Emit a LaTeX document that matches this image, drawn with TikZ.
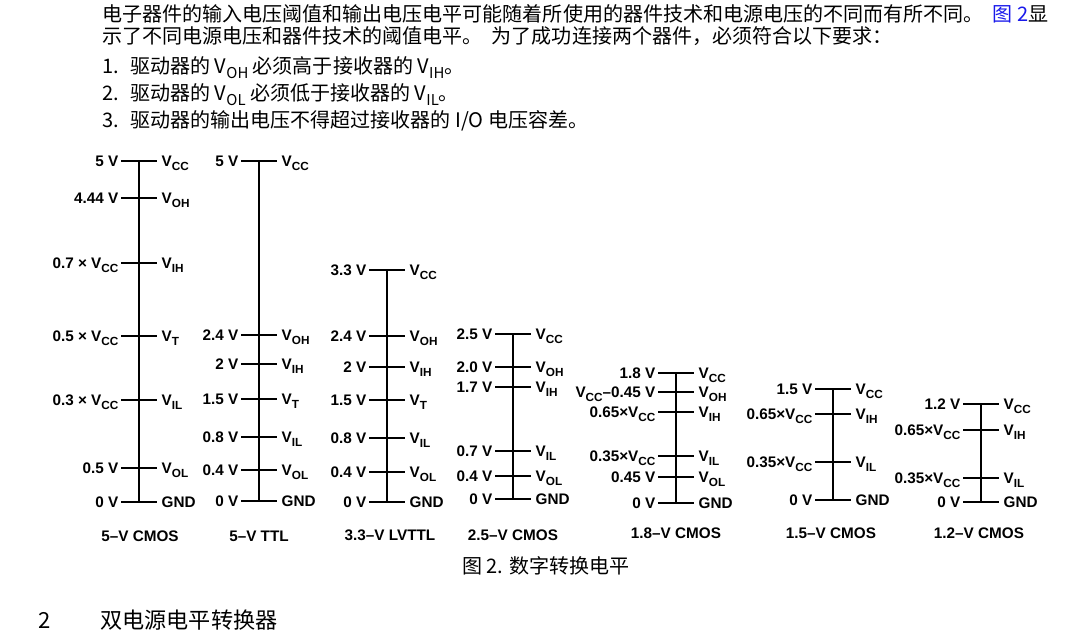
\documentclass[tikz,border=0pt]{standalone}
\usepackage{fontspec}
\setmainfont{Liberation Sans}
\newfontfamily\cjk{Noto Sans CJK SC}
\usepackage{tikz}
\definecolor{linkblue}{RGB}{25,25,235}
\newcommand\lo[1]{\raisebox{-0.45ex}{\fontsize{6.7}{7}\selectfont #1}}
\newcommand\tlo[1]{\raisebox{-0.4ex}{\fontsize{8.5}{9}\selectfont #1}}
\tikzset{
  rail/.style={line width=1.35pt},
  lbl/.style={font=\bfseries\fontsize{8.7}{10}\selectfont, text=black},
  lft/.style={lbl, anchor=base east, inner sep=0.8pt, yshift=-3.4pt},
  rgt/.style={lbl, anchor=base west, inner sep=2pt, yshift=-3.4pt},
  ttl/.style={lbl, anchor=center},
  body/.style={anchor=base west, inner sep=0pt, font=\cjk\fontsize{11.4}{13}\selectfont},
}

\begin{document}
\begin{tikzpicture}[x=0.02cm,y=-0.02cm]
\useasboundingbox (0,0) rectangle (1080,638);

% text above the figure
\node[body] (p1) at (102,22) {电子器件的输入电压阈值和输出电压电平可能随着所使用的器件技术和电源电压的不同而有所不同。\hspace{0.45em}{\color{linkblue}图 2}显};
\node[body] (p2) at (102,44) {示了不同电源电压和器件技术的阈值电平。\hspace{0.45em}为了成功连接两个器件，必须符合以下要求：};
\node[body] (n1) at (102,74) {1.};
\node[body] (t1) at (130,74) {驱动器的 V\tlo{OH} 必须高于接收器的 V\tlo{IH}。};
\node[body] (n2) at (102,101) {2.};
\node[body] (t2) at (130,101) {驱动器的 V\tlo{OL} 必须低于接收器的 V\tlo{IL}。};
\node[body] (n3) at (102,128) {3.};
\node[body] (t3) at (130,128) {驱动器的输出电压不得超过接收器的 I/O 电压容差。};

% 5-V CMOS
\draw[rail] (139,161) -- (139,502);
\draw[rail] (121,161) node[lft] (A1) {5 V} -- (157,161) node[rgt] (A1r) {V\lo{CC}};
\draw[rail] (121,198) node[lft] (A2) {4.44 V} -- (157,198) node[rgt] (A2r) {V\lo{OH}};
\draw[rail] (121,263) node[lft] (A3) {0.7 × V\lo{CC}} -- (157,263) node[rgt] (A3r) {V\lo{IH}};
\draw[rail] (121,336) node[lft] (A4) {0.5 × V\lo{CC}} -- (157,336) node[rgt] (A4r) {V\lo{T}};
\draw[rail] (121,400) node[lft] (A5) {0.3 × V\lo{CC}} -- (157,400) node[rgt] (A5r) {V\lo{IL}};
\draw[rail] (121,468) node[lft] (A6) {0.5 V} -- (157,468) node[rgt] (A6r) {V\lo{OL}};
\draw[rail] (121,502) node[lft] (A7) {0 V} -- (157,502) node[rgt] (A7r) {GND};
\node[ttl] (A) at (140,536) {5–V CMOS};

% 5-V TTL
\draw[rail] (259,161) -- (259,501);
\draw[rail] (241,161) node[lft] (B1) {5 V} -- (277,161) node[rgt] (B1r) {V\lo{CC}};
\draw[rail] (241,335) node[lft] (B2) {2.4 V} -- (277,335) node[rgt] (B2r) {V\lo{OH}};
\draw[rail] (241,364) node[lft] (B3) {2 V} -- (277,364) node[rgt] (B3r) {V\lo{IH}};
\draw[rail] (241,399) node[lft] (B4) {1.5 V} -- (277,399) node[rgt] (B4r) {V\lo{T}};
\draw[rail] (241,437) node[lft] (B5) {0.8 V} -- (277,437) node[rgt] (B5r) {V\lo{IL}};
\draw[rail] (241,470) node[lft] (B6) {0.4 V} -- (277,470) node[rgt] (B6r) {V\lo{OL}};
\draw[rail] (241,501) node[lft] (B7) {0 V} -- (277,501) node[rgt] (B7r) {GND};
\node[ttl] (B) at (259,536) {5–V TTL};

% 3.3-V LVTTL
\draw[rail] (387,270) -- (387,502);
\draw[rail] (369,270) node[lft] (C1) {3.3 V} -- (405,270) node[rgt] (C1r) {V\lo{CC}};
\draw[rail] (369,336) node[lft] (C2) {2.4 V} -- (405,336) node[rgt] (C2r) {V\lo{OH}};
\draw[rail] (369,367) node[lft] (C3) {2 V} -- (405,367) node[rgt] (C3r) {V\lo{IH}};
\draw[rail] (369,400) node[lft] (C4) {1.5 V} -- (405,400) node[rgt] (C4r) {V\lo{T}};
\draw[rail] (369,438) node[lft] (C5) {0.8 V} -- (405,438) node[rgt] (C5r) {V\lo{IL}};
\draw[rail] (369,472) node[lft] (C6) {0.4 V} -- (405,472) node[rgt] (C6r) {V\lo{OL}};
\draw[rail] (369,502) node[lft] (C7) {0 V} -- (405,502) node[rgt] (C7r) {GND};
\node[ttl] (C) at (390,535) {3.3–V LVTTL};

% 2.5-V CMOS
\draw[rail] (513,334) -- (513,499);
\draw[rail] (495,334) node[lft] (D1) {2.5 V} -- (531,334) node[rgt] (D1r) {V\lo{CC}};
\draw[rail] (495,367) node[lft] (D2) {2.0 V} -- (531,367) node[rgt] (D2r) {V\lo{OH}};
\draw[rail] (495,387) node[lft] (D3) {1.7 V} -- (531,387) node[rgt] (D3r) {V\lo{IH}};
\draw[rail] (495,451) node[lft] (D4) {0.7 V} -- (531,451) node[rgt] (D4r) {V\lo{IL}};
\draw[rail] (495,476) node[lft] (D5) {0.4 V} -- (531,476) node[rgt] (D5r) {V\lo{OL}};
\draw[rail] (495,499) node[lft] (D6) {0 V} -- (531,499) node[rgt] (D6r) {GND};
\node[ttl] (D) at (513,535) {2.5–V CMOS};

% 1.8-V CMOS
\draw[rail] (676,373) -- (676,503);
\draw[rail] (658,373) node[lft] (E1) {1.8 V} -- (694,373) node[rgt] (E1r) {V\lo{CC}};
\draw[rail] (658,392) node[lft] (E2) {V\lo{CC}–0.45 V} -- (694,392) node[rgt] (E2r) {V\lo{OH}};
\draw[rail] (658,412) node[lft] (E3) {0.65×V\lo{CC}} -- (694,412) node[rgt] (E3r) {V\lo{IH}};
\draw[rail] (658,456) node[lft] (E4) {0.35×V\lo{CC}} -- (694,456) node[rgt] (E4r) {V\lo{IL}};
\draw[rail] (658,477) node[lft] (E5) {0.45 V} -- (694,477) node[rgt] (E5r) {V\lo{OL}};
\draw[rail] (658,503) node[lft] (E6) {0 V} -- (694,503) node[rgt] (E6r) {GND};
\node[ttl] (E) at (676,533) {1.8–V CMOS};

% 1.5-V CMOS
\draw[rail] (833,389) -- (833,500);
\draw[rail] (815,389) node[lft] (F1) {1.5 V} -- (851,389) node[rgt] (F1r) {V\lo{CC}};
\draw[rail] (815,414) node[lft] (F2) {0.65×V\lo{CC}} -- (851,414) node[rgt] (F2r) {V\lo{IH}};
\draw[rail] (815,462) node[lft] (F3) {0.35×V\lo{CC}} -- (851,462) node[rgt] (F3r) {V\lo{IL}};
\draw[rail] (815,500) node[lft] (F4) {0 V} -- (851,500) node[rgt] (F4r) {GND};
\node[ttl] (F) at (831,533) {1.5–V CMOS};

% 1.2-V CMOS
\draw[rail] (981,404) -- (981,502);
\draw[rail] (963,404) node[lft] (G1) {1.2 V} -- (999,404) node[rgt] (G1r) {V\lo{CC}};
\draw[rail] (963,430) node[lft] (G2) {0.65×V\lo{CC}} -- (999,430) node[rgt] (G2r) {V\lo{IH}};
\draw[rail] (963,478) node[lft] (G3) {0.35×V\lo{CC}} -- (999,478) node[rgt] (G3r) {V\lo{IL}};
\draw[rail] (963,502) node[lft] (G4) {0 V} -- (999,502) node[rgt] (G4r) {GND};
\node[ttl] (G) at (979,533) {1.2–V CMOS};

% caption and next section
\node[body] (cap) at (462,574) {图 2. 数字转换电平};
\node[body, font=\cjk\fontsize{12.6}{14}\selectfont] (s2) at (38,629) {2};
\node[body, font=\cjk\fontsize{12.6}{14}\selectfont] (s2t) at (100,629) {双电源电平转换器};
\end{tikzpicture}
\end{document}
